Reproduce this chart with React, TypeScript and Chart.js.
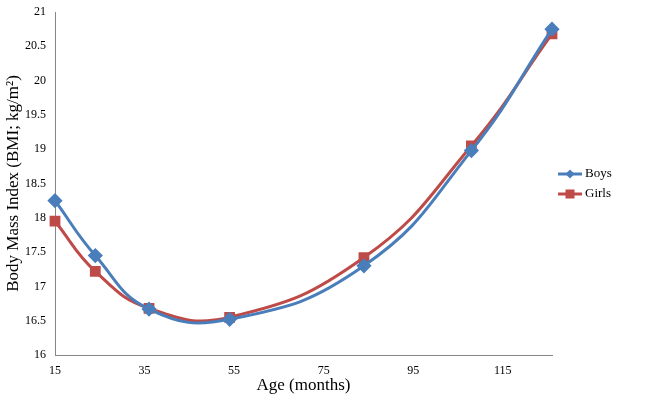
import React, { useEffect, useRef } from "react";
import { Chart, registerables } from "chart.js";

Chart.register(...registerables);

const ages = [15, 24, 36, 54, 84, 108, 126];
const boys = [18.25, 17.45, 16.67, 16.52, 17.3, 18.98, 20.75];
const girls = [17.95, 17.22, 16.68, 16.55, 17.42, 19.05, 20.68];
const xTicks = [15, 35, 55, 75, 95, 115];
const yTicks = [16, 16.5, 17, 17.5, 18, 18.5, 19, 19.5, 20, 20.5, 21];

const BLUE = "#4a7ebb";
const RED = "#be4b48";
const FONT = "'Liberation Serif', 'Times New Roman', serif";

const legendPlugin = {
  id: "customLegend",
  afterDraw(chart: any) {
    const ctx = chart.ctx;
    const items = [
      { label: "Boys", color: BLUE, style: "diamond" },
      { label: "Girls", color: RED, style: "square" },
    ];
    const x0 = 558;
    const y0 = 174;
    ctx.save();
    items.forEach((it, i) => {
      const y = y0 + i * 20;
      ctx.strokeStyle = it.color;
      ctx.lineWidth = 3;
      ctx.beginPath();
      ctx.moveTo(x0, y);
      ctx.lineTo(x0 + 24, y);
      ctx.stroke();
      ctx.fillStyle = it.color;
      const cx = x0 + 12;
      if (it.style === "diamond") {
        ctx.beginPath();
        ctx.moveTo(cx, y - 4.5);
        ctx.lineTo(cx + 4.5, y);
        ctx.lineTo(cx, y + 4.5);
        ctx.lineTo(cx - 4.5, y);
        ctx.closePath();
        ctx.fill();
      } else {
        ctx.fillRect(cx - 4.5, y - 4.5, 9, 9);
      }
      ctx.fillStyle = "#000";
      ctx.font = `13px ${FONT}`;
      ctx.textBaseline = "middle";
      ctx.textAlign = "left";
      ctx.fillText(it.label, x0 + 27, y);
    });
    ctx.restore();
  },
};

export default function App() {
  const ref = useRef<HTMLCanvasElement>(null);
  useEffect(() => {
    if (!ref.current) return;
    const chart = new Chart(ref.current, {
      type: "line",
      data: {
        datasets: [
          {
            label: "Boys",
            data: ages.map((a, i) => ({ x: a, y: boys[i] })),
            borderColor: BLUE,
            backgroundColor: BLUE,
            borderWidth: 3,
            pointStyle: "rectRot",
            pointRadius: 5.5,
            pointHoverRadius: 5.5,
            tension: 0.45,
            clip: false as any,
          },
          {
            label: "Girls",
            data: ages.map((a, i) => ({ x: a, y: girls[i] })),
            borderColor: RED,
            backgroundColor: RED,
            borderWidth: 3,
            pointStyle: "rect",
            pointRadius: 5.5,
            pointHoverRadius: 5.5,
            tension: 0.45,
            clip: false as any,
          },
        ],
      },
      options: {
        responsive: false,
        animation: false,
        layout: { padding: { top: 0, right: 99, left: 0, bottom: 0 } },
        plugins: { legend: { display: false }, tooltip: { enabled: false } },
        scales: {
          x: {
            type: "linear",
            min: 15,
            max: 126,
            afterBuildTicks: (s: any) => {
              s.ticks = xTicks.map((v) => ({ value: v }));
            },
            afterFit: (s: any) => {
              s.height = 46;
            },
            grid: { display: false, drawTicks: false },
            border: { display: true, color: "#868686", width: 1 },
            ticks: {
              color: "#000",
              font: { family: FONT, size: 12 },
              padding: 9,
              maxRotation: 0,
              autoSkip: false,
              callback: (v: any) => String(v),
            },
            title: {
              display: true,
              text: "Age (months)",
              color: "#000",
              font: { family: FONT, size: 17 },
              padding: { top: 0, bottom: 5 },
            },
          },
          y: {
            type: "linear",
            min: 16,
            max: 21,
            afterBuildTicks: (s: any) => {
              s.ticks = yTicks.map((v) => ({ value: v }));
            },
            afterFit: (s: any) => {
              s.width = 55;
              s.paddingTop = 12;
              s.paddingBottom = 0;
            },
            grid: { display: false, drawTicks: false },
            border: { display: true, color: "#868686", width: 1 },
            ticks: {
              color: "#000",
              font: { family: FONT, size: 12 },
              padding: 9,
              autoSkip: false,
              callback: (v: any) => String(v),
            },
            title: {
              display: true,
              text: "Body Mass Index (BMI; kg/m²)",
              color: "#000",
              font: { family: FONT, size: 17 },
              padding: { top: 3, bottom: 0 },
            },
          },
        },
      },
      plugins: [legendPlugin],
    });
    return () => chart.destroy();
  }, []);
  return (
    <div style={{ position: "fixed", left: 0, top: 0, width: 651, height: 401, background: "#fff" }}>
      <canvas ref={ref} width={651} height={401} />
    </div>
  );
}
